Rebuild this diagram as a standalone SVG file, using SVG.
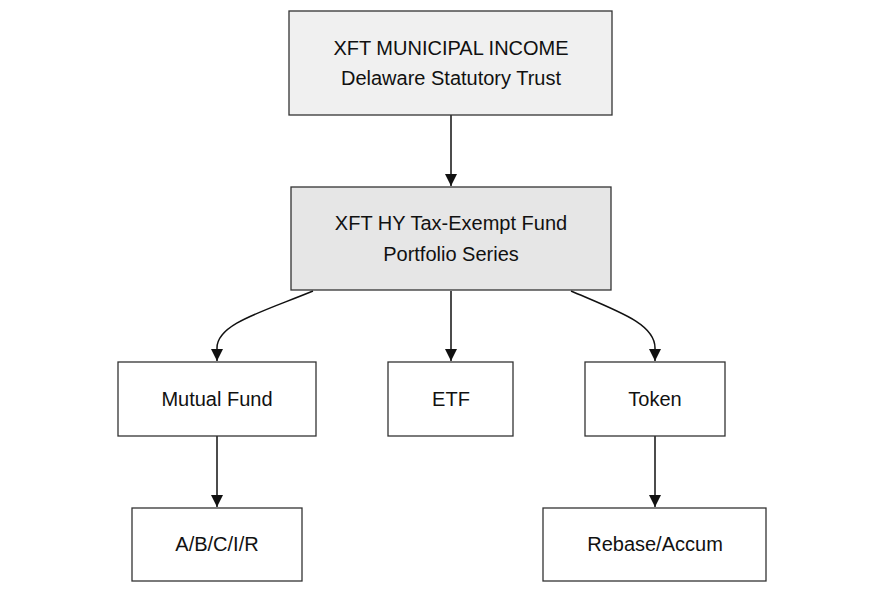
<svg xmlns="http://www.w3.org/2000/svg" width="885" height="593" viewBox="0 0 885 593">
<style>
.box{stroke:#333;stroke-width:1.3}
.w{fill:#fff}
.t{font-family:"Liberation Sans",Arial,sans-serif;font-size:20px;fill:#111;text-anchor:middle}
.e{fill:none;stroke:#111;stroke-width:1.5}
</style>
<defs>
<marker id="a" viewBox="0 0 10 10" refX="10" refY="5" markerWidth="12" markerHeight="12" markerUnits="userSpaceOnUse" orient="auto">
<path d="M0,0L10,5L0,10z" fill="#111"/>
</marker>
</defs>
<rect width="885" height="593" fill="#fff"/>
<g id="edges">
<path class="e" d="M451,115V186" marker-end="url(#a)"/>
<path class="e" d="M313,291C262,312 217,324 217,348V361" marker-end="url(#a)"/>
<path class="e" d="M451,291V361" marker-end="url(#a)"/>
<path class="e" d="M571,291C620,312 655,324 655,348V361" marker-end="url(#a)"/>
<path class="e" d="M217,436V507" marker-end="url(#a)"/>
<path class="e" d="M655,436V507" marker-end="url(#a)"/>
</g>
<g id="trust">
<rect class="box" x="289" y="11" width="323" height="104" fill="#f0f0f0"/>
<text class="t" x="451" y="55">XFT MUNICIPAL INCOME</text>
<text class="t" x="451" y="85">Delaware Statutory Trust</text>
</g>
<g id="fund">
<rect class="box" x="291" y="187" width="320" height="103" fill="#e6e6e6"/>
<text class="t" x="451" y="230">XFT HY Tax-Exempt Fund</text>
<text class="t" x="451" y="261">Portfolio Series</text>
</g>
<g id="mutual">
<rect class="box w" x="118" y="362" width="198" height="74"/>
<text class="t" x="217" y="406">Mutual Fund</text>
</g>
<g id="etf">
<rect class="box w" x="388" y="362" width="125" height="74"/>
<text class="t" x="451" y="406">ETF</text>
</g>
<g id="token">
<rect class="box w" x="585" y="362" width="140" height="74"/>
<text class="t" x="655" y="406">Token</text>
</g>
<g id="classes">
<rect class="box w" x="132" y="508" width="170" height="73"/>
<text class="t" x="217" y="551">A/B/C/I/R</text>
</g>
<g id="rebase">
<rect class="box w" x="543" y="508" width="223" height="73"/>
<text class="t" x="655" y="551">Rebase/Accum</text>
</g>
</svg>
